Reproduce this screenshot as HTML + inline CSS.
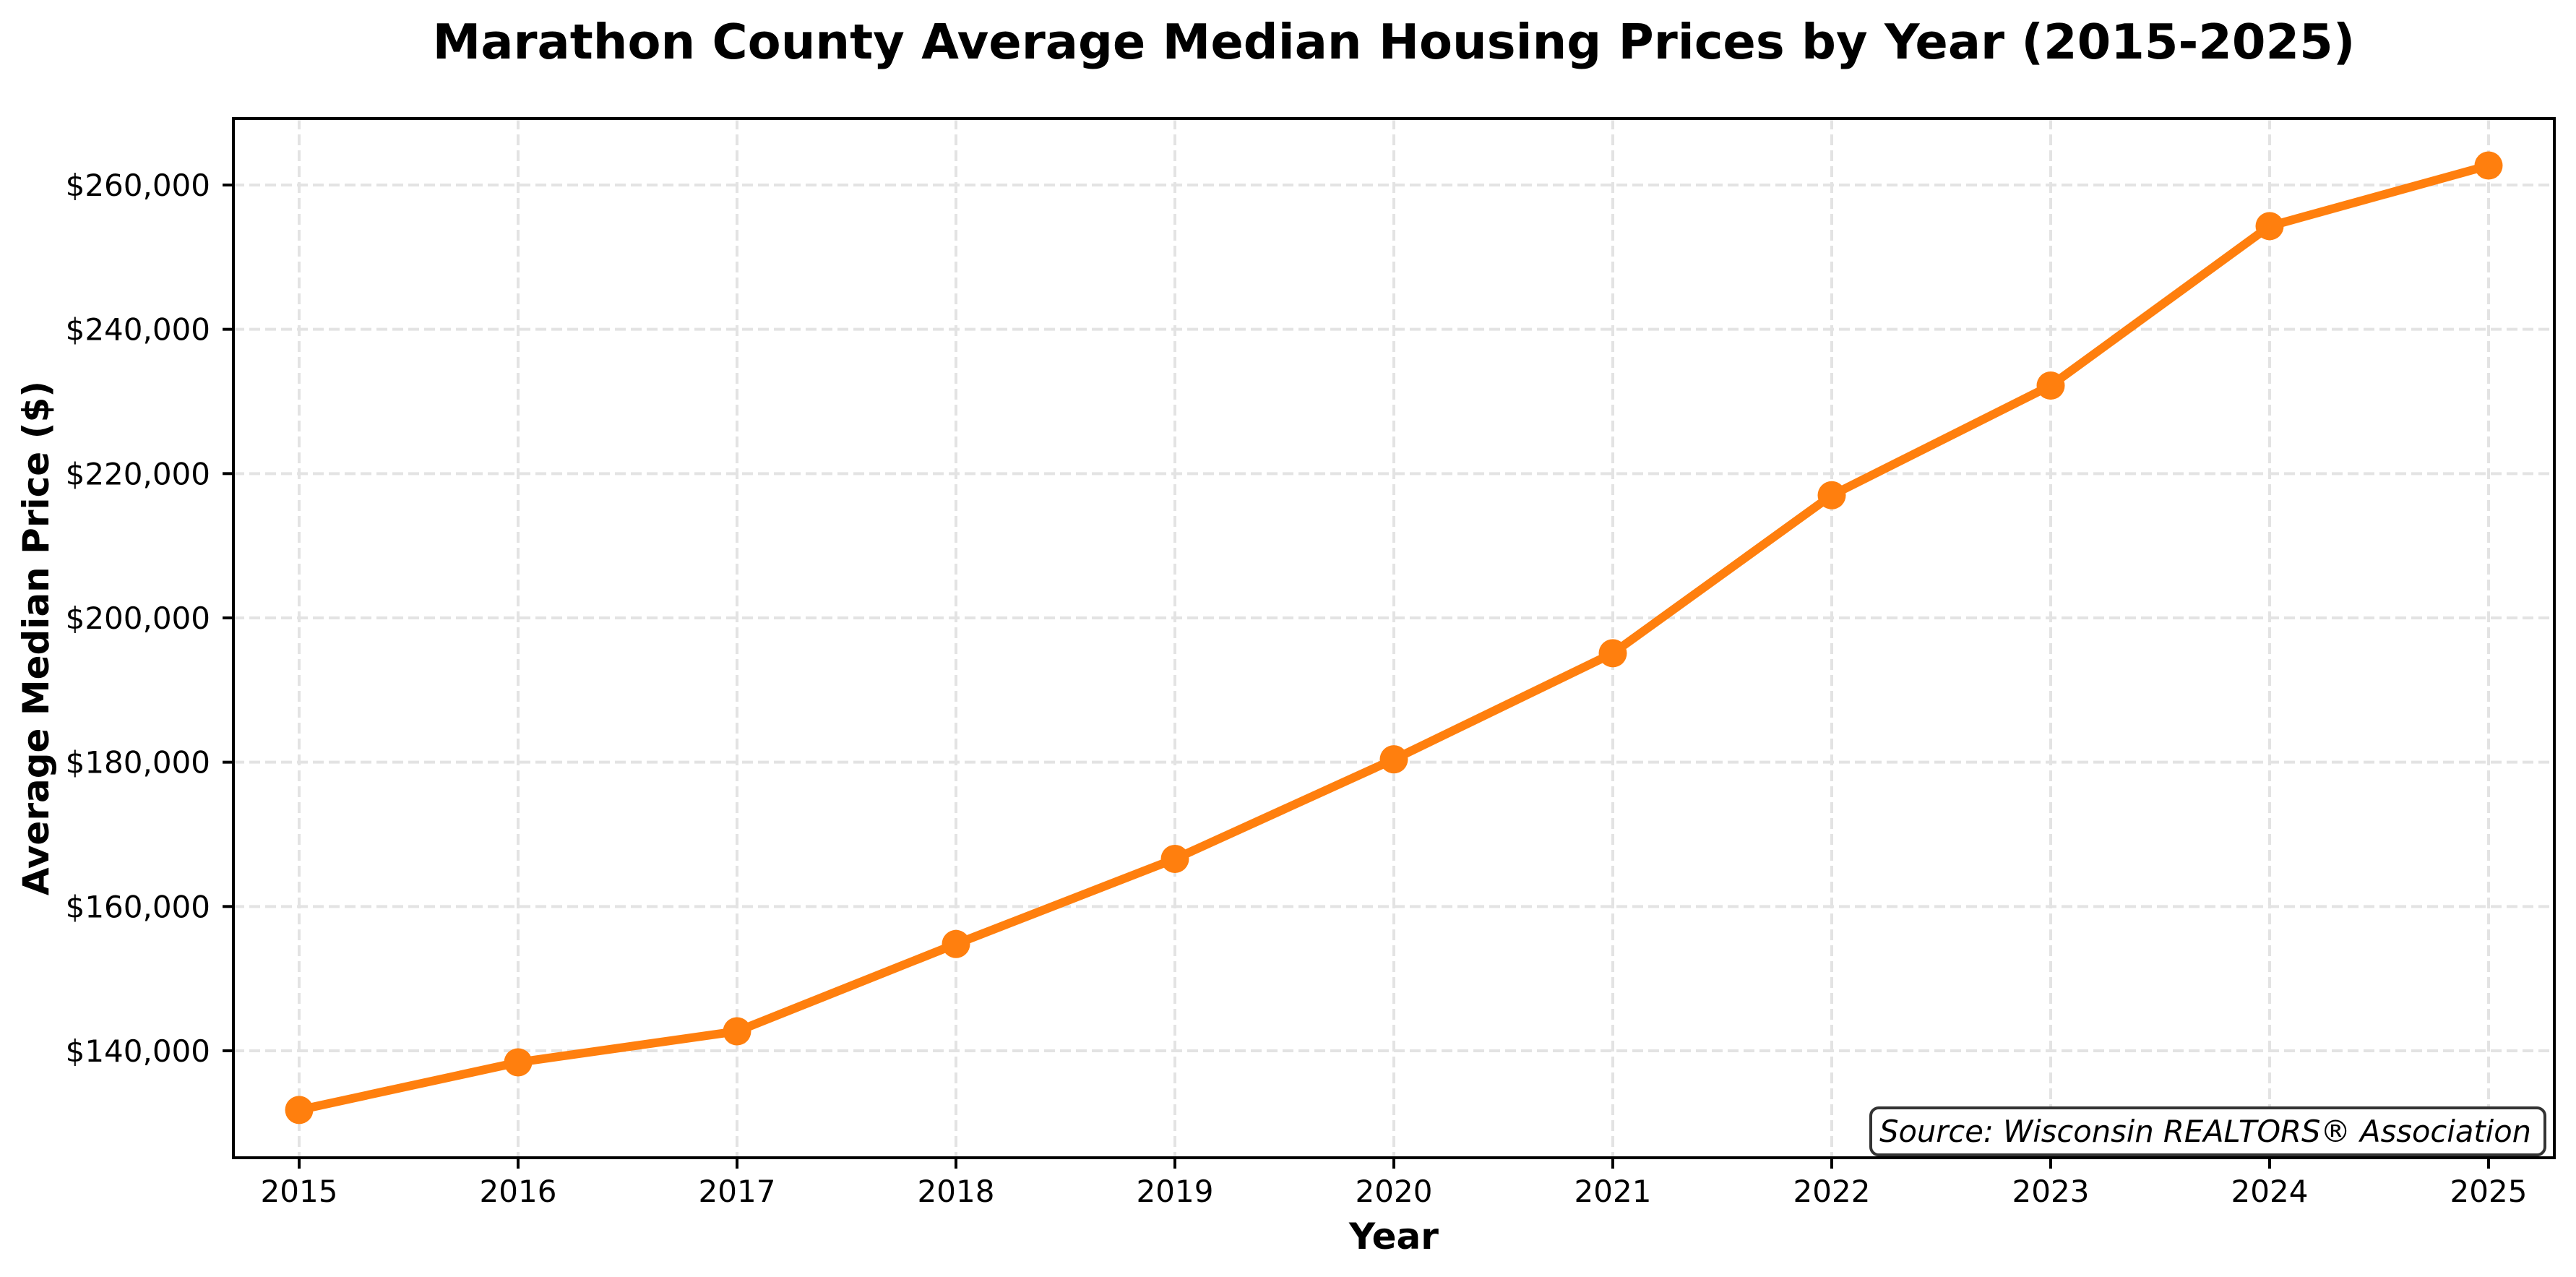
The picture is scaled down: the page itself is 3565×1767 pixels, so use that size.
<!DOCTYPE html>
<html><head><meta charset="utf-8"><style>
html,body{margin:0;padding:0;background:#fff}
svg{display:block;font-family:"DejaVu Sans","Liberation Sans",sans-serif}
</style></head><body>
<svg id="chart" width="3565" height="1767" viewBox="0 0 3565 1767" xmlns="http://www.w3.org/2000/svg">
<rect width="3565" height="1767" fill="#fff"/>
<text x="1929" y="81" text-anchor="middle" font-size="67" font-weight="bold">Marathon County Average Median Housing Prices by Year (2015-2025)</text>
<g id="grid"></g>
<g id="series"></g>
<rect x="323" y="164" width="3212" height="1438" fill="none" stroke="#000" stroke-width="4"/>
<g id="ticks"></g>
<text x="1929" y="1728" text-anchor="middle" font-size="50" font-weight="bold">Year</text>
<text transform="translate(67,883) rotate(-90)" text-anchor="middle" font-size="50" font-weight="bold">Average Median Price ($)</text>
<g>
<rect x="2589" y="1533" width="933" height="65" rx="11" fill="#fff" stroke="#333" stroke-width="4"/>
<text x="3503" y="1580" text-anchor="end" font-size="41.6" font-style="italic">Source: Wisconsin REALTORS® Association</text>
</g>
</svg>
<script>
const years = [2015,2016,2017,2018,2019,2020,2021,2022,2023,2024,2025];
const prices = [131800,138400,142700,154800,166600,180400,195100,217000,232200,254300,262700];
const yTicks = [140000,160000,180000,200000,220000,240000,260000];
const yTickLabels = ['$140,000','$160,000','$180,000','$200,000','$220,000','$240,000','$260,000'];

const NS='http://www.w3.org/2000/svg';
const L=323,R=3535,T=164,B=1602;
function xs(yr){return 414+(yr-2015)*(3444-414)/10;}
function ys(v){return 1454-(v-140000)*(1454-256)/120000;}
function mk(tag,attrs,parent){const e=document.createElementNS(NS,tag);for(const k in attrs)e.setAttribute(k,attrs[k]);parent.appendChild(e);return e;}
const grid=document.getElementById('grid'),ticks=document.getElementById('ticks'),series=document.getElementById('series');

years.forEach(yr=>{
  const x=xs(yr);
  const g=mk('line',{x1:x,x2:x,y1:T,y2:B,stroke:'#e3e3e3','stroke-width':4,'stroke-dasharray':'15 7'},grid);
  
  
  const t=mk('line',{x1:x,x2:x,y1:B,y2:B+15,stroke:'#000','stroke-width':4},ticks);
  
  
  const lb=mk('text',{x:x,y:B+61,'text-anchor':'middle','font-size':42},ticks);
  lb.textContent=yr;
  
  
});
yTicks.forEach((v,i)=>{
  const y=ys(v);
  const g=mk('line',{x1:L,x2:R,y1:y,y2:y,stroke:'#e3e3e3','stroke-width':4,'stroke-dasharray':'15 7'},grid);
  
  
  const t=mk('line',{x1:L-15,x2:L,y1:y,y2:y,stroke:'#000','stroke-width':4},ticks);
  
  
  const lb=mk('text',{x:291,y:y+15,'text-anchor':'end','font-size':42},ticks);
  lb.textContent=yTickLabels[i];
  
  
});
const pts=years.map((yr,i)=>xs(yr)+','+ys(prices[i])).join(' ');
const pl=mk('polyline',{points:pts,fill:'none',stroke:'#ff7f0e','stroke-width':12,'stroke-linejoin':'round'},series);


years.forEach((yr,i)=>{
  const c=mk('circle',{cx:xs(yr),cy:ys(prices[i]),r:19.5,fill:'#ff7f0e'},series);
  
  
});
</script>
</body></html>
